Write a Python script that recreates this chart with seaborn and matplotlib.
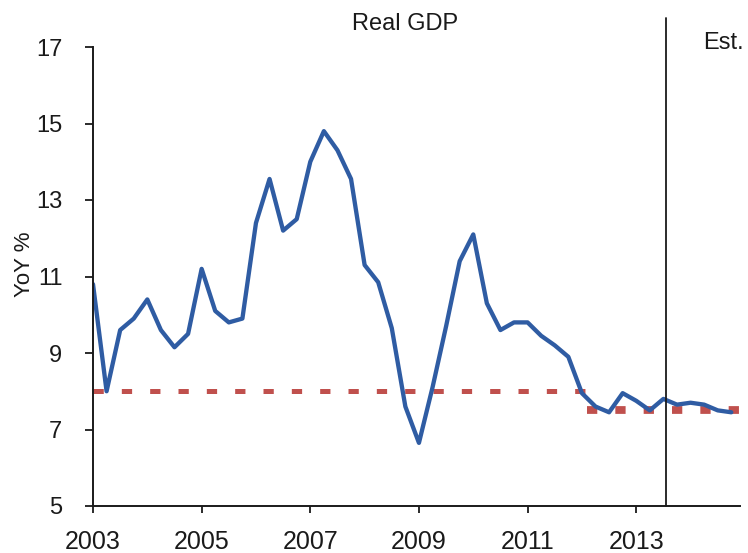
import seaborn as sns
from matplotlib import pyplot as plt
import pandas as pd

# quarterly real GDP growth, 2003Q1 .. 2014Q4 (last quarters are estimates)
years = [2003 + q / 4 for q in range(48)]
gdp_yoy = [
    10.8, 8.0, 9.6, 9.9, 10.4, 9.6, 9.15, 9.5,
    11.2, 10.1, 9.8, 9.9, 12.4, 13.55, 12.2, 12.5,
    14.0, 14.8, 14.3, 13.55, 11.3, 10.85, 9.65, 7.6,
    6.65, 8.1, 9.7, 11.4, 12.1, 10.3, 9.6, 9.8,
    9.8, 9.45, 9.2, 8.9, 7.95, 7.6, 7.45, 7.95,
    7.75, 7.5, 7.8, 7.65, 7.7, 7.65, 7.5, 7.45,
]

# growth targets (start, end, level)
target_start = [2003.0, 2012.1]
target_end = [2012.1, 2014.91]
target_level = [8.0, 7.5]
target_width = [3.6, 5.6]

est_start = 2013.55
y_ticks = [5, 7, 9, 11, 13, 15, 17]
x_ticks = [2003, 2005, 2007, 2009, 2011, 2013]

BLUE = "#2F5CA3"
RED = "#C0504D"
INK = "#1a1a1a"

sns.set_theme(style="white")
plt.rcParams['font.family'] = ['Liberation Sans', 'DejaVu Sans']

df = pd.DataFrame({"year": years, "yoy": gdp_yoy})

fig = plt.figure(figsize=(7.48, 5.53), dpi=100)
ax = fig.add_axes([93 / 748, 47 / 553, 647 / 748, 459 / 553])

for x0, x1, lvl, lw in zip(target_start, target_end, target_level, target_width):
    seg = pd.DataFrame({"year": [x0, x1], "yoy": [lvl, lvl]})
    sns.lineplot(data=seg, x="year", y="yoy", ax=ax, color=RED, linewidth=lw)
    # dash pattern is scaled by linewidth, so give it in lw units
    ax.lines[-1].set_dashes((7.4 / lw, 13.0 / lw))
    ax.lines[-1].set_dash_capstyle('butt')

sns.lineplot(data=df, x="year", y="yoy", ax=ax, color=BLUE, linewidth=3.1)

ax.axvline(est_start, ymin=0, ymax=(506 - 18) / 459, color=INK,
           linewidth=1.3, clip_on=False)
ax.text(2014.23, 17.1, "Est.", fontsize=17, color=INK, ha="left", va="center")

ax.set_xlim(2003, 2014.91)
ax.set_ylim(5, 17)
ax.set_xticks(x_ticks)
ax.set_xticklabels([str(x) for x in x_ticks])
ax.set_yticks(y_ticks)
ax.set_yticklabels([str(y) for y in y_ticks])
ax.set_xlabel("")
ax.set_ylabel("YoY %", fontsize=16, color=INK)
ax.yaxis.set_label_coords(-0.089, 0.527)

for side in ["top", "right"]:
    ax.spines[side].set_visible(False)
for side in ["left", "bottom"]:
    ax.spines[side].set_color(INK)
    ax.spines[side].set_linewidth(1.4)

ax.tick_params(axis="y", direction="out", length=6, width=1.3, color=INK,
               labelsize=17, labelcolor=INK, pad=16, left=True)
ax.tick_params(axis="x", direction="out", length=5, width=1.3, color=INK,
               labelsize=18, labelcolor=INK, pad=12, bottom=True)

fig.text(405 / 748, 1 - 24 / 553, "Real GDP", fontsize=17, color=INK,
         ha="center", va="center")

fig.savefig("out.png", dpi=100, facecolor="white")
